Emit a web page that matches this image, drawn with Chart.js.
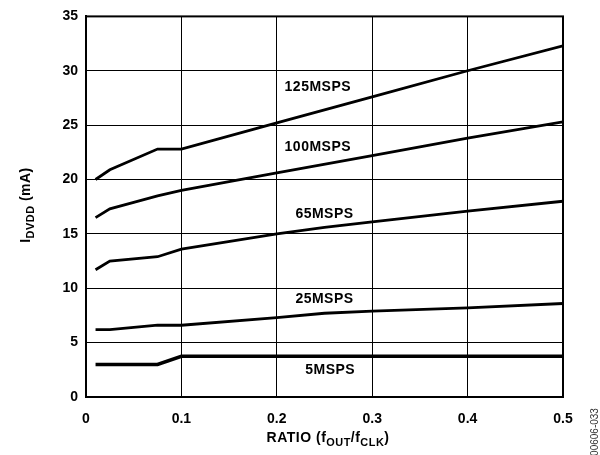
<!DOCTYPE html>
<html>
<head>
<meta charset="utf-8">
<script src="https://cdn.jsdelivr.net/npm/chart.js@4/dist/chart.umd.min.js"></script>
<style>
  html, body { margin: 0; padding: 0; background: #fff; }
  #wrap { width: 600px; height: 455px; }
</style>
</head>
<body>
<div id="wrap"><canvas id="chart" width="600" height="455"></canvas></div>
<script>
// series data (x = fOUT/fCLK, y = mA)
const x125 = [0.01, 0.025, 0.075, 0.1, 0.2, 0.3, 0.4, 0.5];
const y125 = [20.0, 20.9, 22.8, 22.8, 25.2, 27.6, 30.0, 32.3];
const x100 = [0.01, 0.025, 0.05, 0.075, 0.1, 0.2, 0.3, 0.4, 0.5];
const y100 = [16.5, 17.3, 17.9, 18.5, 19.0, 20.6, 22.2, 23.8, 25.3];
const x65 = [0.01, 0.025, 0.075, 0.1, 0.2, 0.25, 0.3, 0.4, 0.5];
const y65 = [11.7, 12.5, 12.9, 13.6, 15.0, 15.6, 16.1, 17.1, 18.0];
const x25 = [0.01, 0.025, 0.075, 0.1, 0.2, 0.25, 0.3, 0.4, 0.5];
const y25 = [6.2, 6.2, 6.6, 6.6, 7.3, 7.7, 7.9, 8.2, 8.6];
const x5 = [0.01, 0.075, 0.1, 0.5];
const y5 = [3.0, 3.0, 3.75, 3.75];

const seriesNames = ['125MSPS', '100MSPS', '65MSPS', '25MSPS', '5MSPS'];
// label anchor points (data coords)
const labelX = [0.243, 0.243, 0.25, 0.25, 0.256];
const labelY = [28.5, 23.0, 16.85, 9.0, 2.5];

const xTicks = [0, 0.1, 0.2, 0.3, 0.4, 0.5];
const yTicks = [0, 5, 10, 15, 20, 25, 30, 35];

const FONT = 'Arial, "Liberation Sans", sans-serif';

function pts(xs, ys) {
    return xs.map((x, i) => ({ x: x, y: ys[i] }));
}

function drawSubText(ctx, parts, x, y, size) {
    // parts: [text, isSub]
    let total = 0;
    parts.forEach(p => {
        ctx.font = 'bold ' + (p[1] ? size * 0.78 : size) + 'px ' + FONT;
        total += ctx.measureText(p[0]).width;
    });
    let cx = x - total / 2;
    ctx.textAlign = 'left';
    ctx.textBaseline = 'alphabetic';
    parts.forEach(p => {
        ctx.font = 'bold ' + (p[1] ? size * 0.78 : size) + 'px ' + FONT;
        ctx.fillText(p[0], cx, y + (p[1] ? size * 0.3 : 0));
        cx += ctx.measureText(p[0]).width;
    });
}

const decorPlugin = {
    id: 'decor',
    afterDraw(chart) {
        const ctx = chart.ctx;
        const a = chart.chartArea;
        const xs = chart.scales.x, ys = chart.scales.y;
        ctx.save();
        // frame
        ctx.strokeStyle = '#000';
        ctx.lineWidth = 2;
        ctx.strokeRect(a.left, a.top, a.right - a.left, a.bottom - a.top);

        // curve labels
        ctx.fillStyle = '#000';
        ctx.font = 'bold 14px ' + FONT;
        ctx.letterSpacing = '0.5px';
        ctx.textAlign = 'center';
        ctx.textBaseline = 'middle';
        seriesNames.forEach((n, i) => {
            ctx.fillText(n, xs.getPixelForValue(labelX[i]), ys.getPixelForValue(labelY[i]));
        });

        // x axis title
        drawSubText(ctx, [['RATIO (f', false], ['OUT', true], ['/f', false], ['CLK', true], [')', false]], 328, 442, 14);

        // y axis title
        ctx.save();
        ctx.translate(30, 205);
        ctx.rotate(-Math.PI / 2);
        drawSubText(ctx, [['I', false], ['DVDD', true], [' (mA)', false]], 0, 0, 14);
        ctx.restore();
        ctx.letterSpacing = '0px';

        // figure number
        ctx.save();
        ctx.translate(600, 432);
        ctx.rotate(-Math.PI / 2);
        ctx.font = '10px ' + FONT;
        ctx.fillStyle = '#333';
        ctx.textAlign = 'center';
        ctx.textBaseline = 'bottom';
        ctx.fillText('00606-033', 0, 0);
        ctx.restore();

        ctx.restore();
    }
};

function lineSet(label, xs, ys, w) {
    return {
        label: label,
        data: pts(xs, ys),
        borderColor: '#000',
        borderWidth: w,
        pointRadius: 0,
        fill: false,
        tension: 0
    };
}

new Chart(document.getElementById('chart'), {
    type: 'line',
    data: {
        datasets: [
            lineSet(seriesNames[0], x125, y125, 2.8),
            lineSet(seriesNames[1], x100, y100, 2.8),
            lineSet(seriesNames[2], x65, y65, 2.8),
            lineSet(seriesNames[3], x25, y25, 2.8),
            lineSet(seriesNames[4], x5, y5, 3.5)
        ]
    },
    options: {
        responsive: false,
        animation: false,
        layout: { padding: { top: 15, right: 37, left: 0, bottom: 0 } },
        plugins: {
            legend: { display: false },
            tooltip: { enabled: false }
        },
        scales: {
            x: {
                type: 'linear',
                min: 0,
                max: 0.5,
                afterBuildTicks: s => { s.ticks = xTicks.map(v => ({ value: v })); },
                afterFit: s => { s.height = 58; },
                grid: { color: '#000', lineWidth: 1, drawTicks: false },
                border: { color: '#000', width: 2 },
                ticks: {
                    color: '#000',
                    padding: 14,
                    font: { family: FONT, size: 14, weight: 'bold' },
                    callback: v => v === 0 ? '0' : v.toFixed(1)
                }
            },
            y: {
                min: 0,
                max: 35,
                afterBuildTicks: s => { s.ticks = yTicks.map(v => ({ value: v })); },
                afterFit: s => { s.width = 86; },
                grid: { color: '#000', lineWidth: 1, drawTicks: false },
                border: { color: '#000', width: 2 },
                ticks: {
                    color: '#000',
                    padding: 8,
                    font: { family: FONT, size: 14, weight: 'bold' }
                }
            }
        }
    },
    plugins: [decorPlugin]
});
</script>
</body>
</html>
